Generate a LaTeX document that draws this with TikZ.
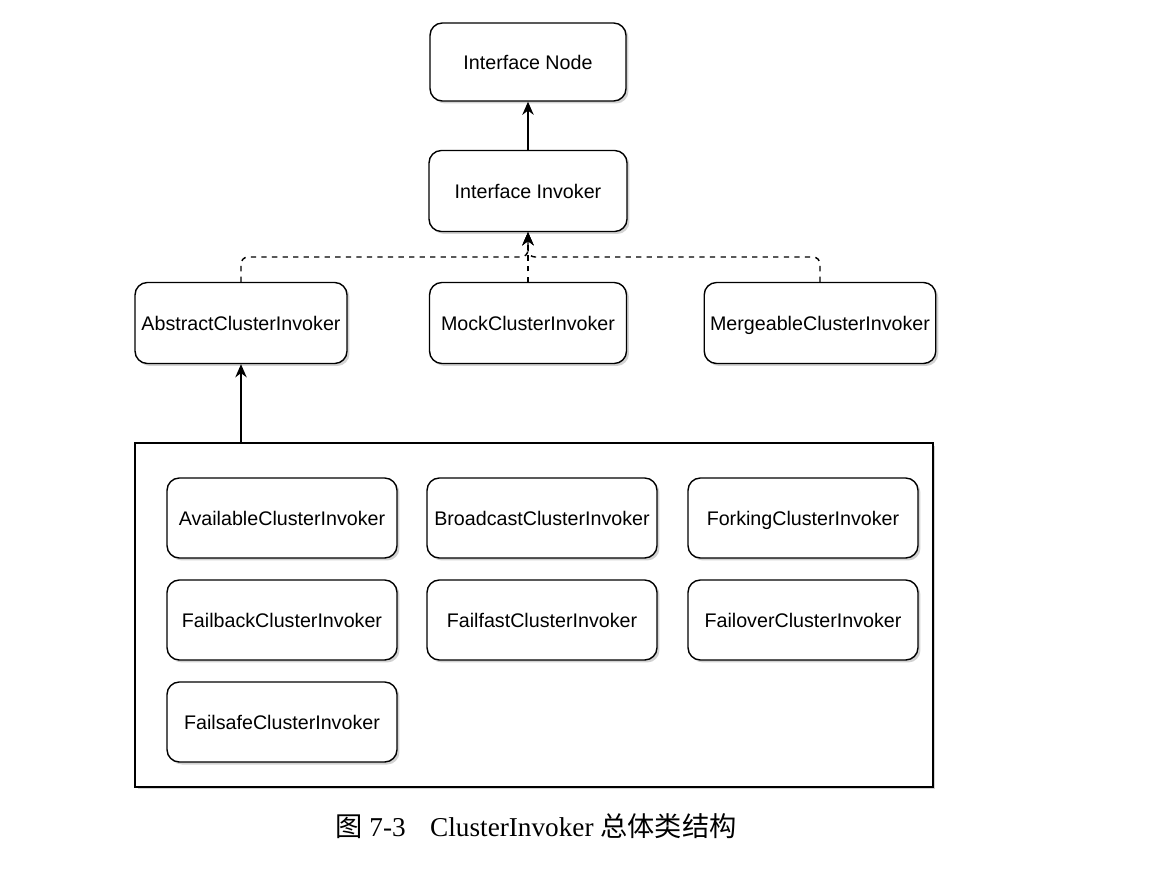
\documentclass[tikz,border=0pt]{standalone}
\usepackage{fontspec}
\setmainfont{Liberation Serif}
\setsansfont{Liberation Sans}
\newfontfamily\cjkfont{Noto Sans CJK SC}
\usetikzlibrary{arrows.meta, positioning, shadows}
\tikzset{
  cls/.style={rectangle, draw, line width=0.8pt, rounded corners=7pt,
              fill=white, minimum height=1.62cm, align=center,
              text height=8pt, text depth=0pt,
              font=\sffamily\fontsize{11.2}{13}\selectfont,
              drop shadow={shadow xshift=0.05cm, shadow yshift=-0.05cm,
                           opacity=0.35, fill=gray}},
  impl/.style={cls, minimum width=4.6cm, minimum height=1.6cm},
  pool/.style={rectangle, draw, line width=0.8pt, fill=white,
               drop shadow={shadow xshift=0.05cm, shadow yshift=-0.05cm,
                            opacity=0.35, fill=gray}},
  arr/.style={-{Stealth[length=7.5pt, width=6.5pt]}, line width=0.8pt},
  dep/.style={arr, dashed, rounded corners=4pt},
}

\begin{document}
\begin{tikzpicture}[x=0.02cm, y=-0.02cm]
  \useasboundingbox (0,0) rectangle (1149,875);

  % interfaces
  \node[cls, minimum width=3.92cm, minimum height=1.56cm] (node) at (528,62) {Interface Node};
  \node[cls, minimum width=3.96cm] (inv) at (528,191) {Interface Invoker};

  % second level
  \node[cls, minimum width=4.24cm] (abs)   at (241,323) {AbstractClusterInvoker};
  \node[cls, minimum width=3.94cm] (mock)  at (528,323) {MockClusterInvoker};
  \node[cls, minimum width=4.52cm] (merge) at (820,323) {MergeableClusterInvoker};

  % subclasses of AbstractClusterInvoker
  \node[pool, minimum width=15.96cm, minimum height=6.88cm] (sub) at (534,615) {};
  \node[impl] (avail) at (282,518) {AvailableClusterInvoker};
  \node[impl] (bcast) at (542,518) {BroadcastClusterInvoker};
  \node[impl] (fork)  at (803,518) {ForkingClusterInvoker};
  \node[impl] (fback) at (282,620) {FailbackClusterInvoker};
  \node[impl] (ffast) at (542,620) {FailfastClusterInvoker};
  \node[impl] (fover) at (803,620) {FailoverClusterInvoker};
  \node[impl] (fsafe) at (282,722) {FailsafeClusterInvoker};

  \coordinate (join) at (528,257);

  \draw[arr] (inv) -- (node);
  \draw[dep] (abs.north) |- (join) -- (inv.south);
  \draw[dep] (merge.north) |- (join) -- (inv.south);
  \draw[dep] (mock) -- (inv);
  \draw[arr] (abs |- sub.north) -- (abs);

  \node[font=\fontsize{15.5}{18}\selectfont] (cap) at (536,826)
    {{\cjkfont 图} 7-3\hspace{0.9em}ClusterInvoker {\cjkfont 总体类结构}};
\end{tikzpicture}
\end{document}
